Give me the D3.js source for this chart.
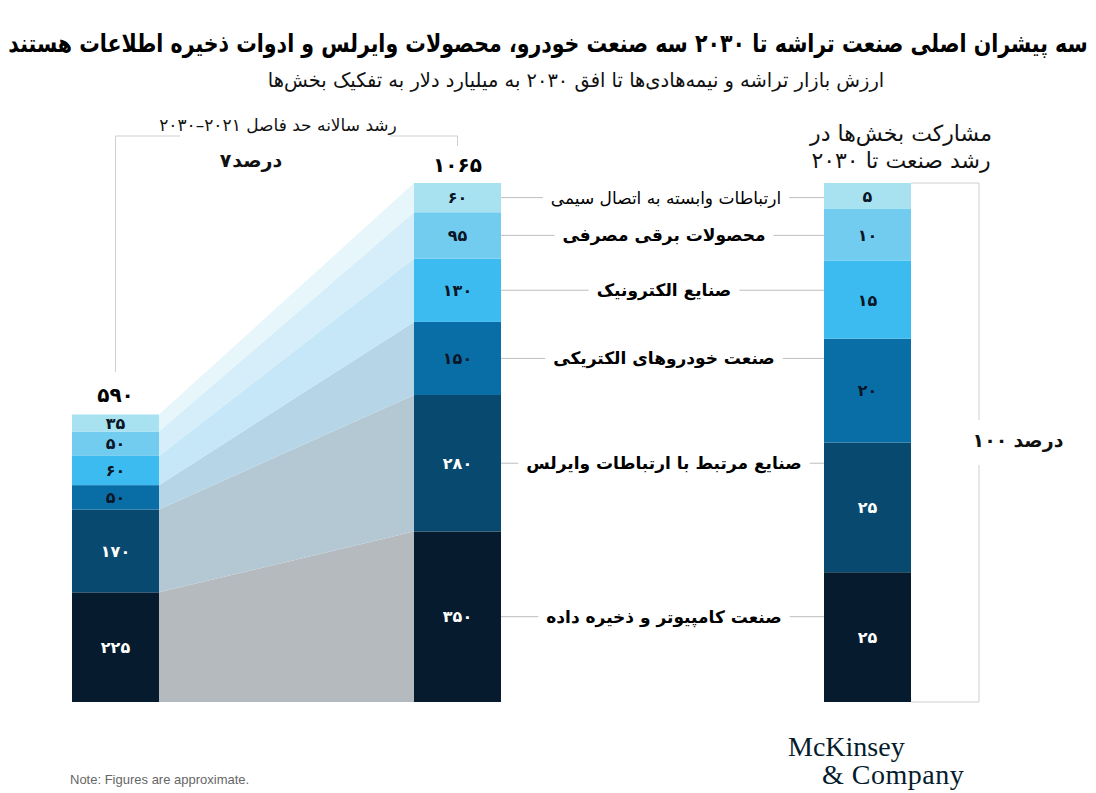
<!DOCTYPE html>
<html><head><meta charset="utf-8">
<script src="https://cdn.jsdelivr.net/npm/d3@7"></script>
<style>
html,body{margin:0;padding:0;background:#fff;}
svg{display:block;}
</style></head>
<body>
<svg id="chart" width="1096" height="793"></svg>
<script>
// ---------- data ----------
const categories = [
  "صنعت کامپیوتر و ذخیره داده",
  "صنایع مرتبط با ارتباطات وایرلس",
  "صنعت خودروهای الکتریکی",
  "صنایع الکترونیک",
  "محصولات برقی مصرفی",
  "ارتباطات وابسته به اتصال سیمی"
];
const values2021 = [225, 170, 50, 60, 50, 35];
const values2030 = [350, 280, 150, 130, 95, 60];
const shares = [25, 25, 20, 15, 10, 5];
const totals = [590, 1065];
const shareTotal = 100;
const growthRate = 7;
const percentWord = "درصد";
const growthLabel = "رشد سالانه حد فاصل ۲۰۲۱–۲۰۳۰";
const titleText = "سه پیشران اصلی صنعت تراشه تا ۲۰۳۰ سه صنعت خودرو، محصولات وایرلس و ادوات ذخیره اطلاعات هستند";
const subtitleText = "ارزش بازار تراشه و نیمه‌هادی‌ها تا افق ۲۰۳۰ به میلیارد دلار به تفکیک بخش‌ها";
const shareHeader = ["مشارکت بخش‌ها در", "رشد صنعت  تا ۲۰۳۰"];
const noteText = "Note: Figures are approximate.";

// ---------- styles ----------
const segColors = ["#061c2e", "#07496f", "#0a6ea6", "#3bbbef", "#72ccef", "#a8e2f0"];
const bandColors = ["#b5babf", "#b4c8d4", "#b6d6e8", "#c5e7f7", "#d5eef9", "#e7f6fb"];
const darkText = [false, false, true, true, true, true];
const ink = "#0a1626";
const fa = "'DejaVu Sans', sans-serif";

const toFa = n => String(n).replace(/\d/g, d => "۰۱۲۳۴۵۶۷۸۹"[d]);

const svg = d3.select("#chart");

// scales
const y = d3.scaleLinear().domain([0, 1065]).range([702, 183]);
const yShare = d3.scaleLinear().domain([0, 100]).range([702, 183]);
const x = d3.scaleOrdinal().domain(["2021", "2030", "share"]).range([72, 414, 824]);
const barW = 87;

// stacks
function stackOf(vals) {
  let acc = 0;
  return vals.map((v, i) => { const s = { i, v, y0: acc, y1: acc + v }; acc += v; return s; });
}
const s21 = stackOf(values2021);
const s30 = stackOf(values2030);
const sSh = stackOf(shares);

// ---------- transition bands ----------
const bands = svg.append("g");
s21.forEach((a, i) => {
  const b = s30[i];
  const x0 = x("2021") + barW, x1 = x("2030");
  const pts = [[x0, y(a.y0)], [x0, y(a.y1)], [x1, y(b.y1)], [x1, y(b.y0)]];
  bands.append("path")
    .attr("d", d3.line()(pts) + "Z")
    .attr("fill", bandColors[i]);
});

// ---------- bars ----------
function drawBar(stack, col, scale) {
  const g = svg.append("g");
  stack.forEach(s => {
    g.append("rect")
      .attr("x", x(col)).attr("width", barW)
      .attr("y", scale(s.y1)).attr("height", scale(s.y0) - scale(s.y1))
      .attr("fill", segColors[s.i]);
  });
  stack.forEach(s => {
    g.append("text")
      .attr("x", x(col) + barW / 2)
      .attr("y", (scale(s.y0) + scale(s.y1)) / 2)
      .attr("dy", "0.36em")
      .attr("text-anchor", "middle")
      .attr("font-family", fa).attr("font-weight", "bold").attr("font-size", 16)
      .attr("fill", darkText[s.i] ? ink : "#ffffff")
      .text(toFa(s.v));
  });
}
drawBar(s21, "2021", y);
drawBar(s30, "2030", y);
drawBar(sSh, "share", yShare);

// totals
svg.append("text").attr("x", x("2021") + barW / 2).attr("y", y(totals[0]) - 12)
  .attr("text-anchor", "middle").attr("font-family", fa).attr("font-weight", "bold")
  .attr("font-size", 20).attr("fill", "#000").text(toFa(totals[0]));
svg.append("text").attr("x", x("2030") + barW / 2).attr("y", y(totals[1]) - 11)
  .attr("text-anchor", "middle").attr("font-family", fa).attr("font-weight", "bold")
  .attr("font-size", 20).attr("fill", "#000").text(toFa(totals[1]));

// ---------- leader lines & category labels ----------
const lab = svg.append("g");
const lineG = lab.append("g");
s30.forEach(s => {
  const cy = (y(s.y0) + y(s.y1)) / 2;
  const isFirst = s.i === 5;
  const t = lab.append("text")
    .attr("x", isFirst ? 666 : 664).attr("y", cy).attr("dy", "0.35em")
    .attr("text-anchor", "middle").attr("direction", "rtl")
    .attr("font-family", fa).attr("font-weight", isFirst ? "normal" : "bold")
    .attr("font-size", 17).attr("fill", "#000")
    .text(categories[s.i]);
  const bb = t.node().getBBox();
  const x0 = x("2030") + barW, x1 = x("share");
  lineG.append("line").attr("x1", x0).attr("x2", bb.x - 8).attr("y1", cy).attr("y2", cy)
    .attr("stroke", "#bdbdbd").attr("stroke-width", 1);
  lineG.append("line").attr("x1", bb.x + bb.width + 8).attr("x2", x1).attr("y1", cy).attr("y2", cy)
    .attr("stroke", "#bdbdbd").attr("stroke-width", 1);
});

// number + word label laid out left-to-right as in the reference
function numWord(cx, cy, num, size, gap) {
  const g = svg.append("g");
  const tn = g.append("text").attr("y", cy).attr("font-family", fa).attr("font-weight", "bold")
    .attr("font-size", size).attr("fill", "#111").text(toFa(num));
  const tw = g.append("text").attr("y", cy).attr("direction", "rtl").attr("font-family", fa).attr("font-weight", "bold")
    .attr("font-size", size).attr("fill", "#111").text(percentWord);
  const wn = tn.node().getComputedTextLength(), ww = tw.node().getComputedTextLength();
  const left = cx - (wn + gap + ww) / 2;
  tn.attr("x", left).attr("text-anchor", "start");
  tw.attr("x", left + wn + gap + ww / 2).attr("text-anchor", "middle");
}

// ---------- growth bracket ----------
const bx0 = x("2021") + barW / 2, bx1 = x("2030") + barW / 2, by = 136;
const br = svg.append("g").attr("stroke", "#cfcfcf").attr("fill", "none").attr("stroke-width", 1);
br.append("path").attr("d", `M${bx0},372 V${by} H180`);
br.append("path").attr("d", `M390,${by} H${bx1} V146`);
svg.append("text").attr("x", 278).attr("y", 131).attr("text-anchor", "middle").attr("direction", "rtl")
  .attr("font-family", fa).attr("font-size", 17).attr("fill", "#111").text(growthLabel);
numWord(251, 167, growthRate, 19, 1);

// ---------- share bracket ----------
const rx0 = x("share") + barW, rx1 = 979;
const rb = svg.append("g").attr("stroke", "#cfcfcf").attr("fill", "none").attr("stroke-width", 1);
rb.append("path").attr("d", `M${rx0},${yShare(100)} H${rx1} V420`);
rb.append("path").attr("d", `M${rx1},465 V${yShare(0)} H${rx0}`);
numWord(1018, 447, shareTotal, 19, 6);

// share header
shareHeader.forEach((t, i) => {
  svg.append("text").attr("x", 901).attr("y", 141 + i * 27).attr("text-anchor", "middle").attr("direction", "rtl")
    .attr("font-family", fa).attr("font-size", 22).attr("fill", "#111").text(t);
});

// ---------- titles (scaled horizontally to the reference width) ----------
function fitText(cx, cy, txt, size, weight, width, color) {
  const t = svg.append("text").attr("x", 0).attr("y", 0).attr("text-anchor", "middle").attr("direction", "rtl")
    .attr("font-family", fa).attr("font-weight", weight).attr("font-size", size).attr("fill", color).text(txt);
  const w = t.node().getComputedTextLength();
  t.attr("transform", `translate(${cx},${cy}) scale(${width / w},1)`);
}
fitText(548, 52, titleText, 25, "bold", 1080, "#000");
fitText(576, 87, subtitleText, 20, "normal", 617, "#111");

// ---------- note & logo ----------
svg.append("text").attr("x", 70).attr("y", 784)
  .attr("font-family", "'Liberation Sans', Arial, sans-serif").attr("font-size", 13).attr("fill", "#666")
  .text(noteText);
svg.append("text").attr("x", 788).attr("y", 756)
  .attr("font-family", "'Liberation Serif', 'DejaVu Serif', serif").attr("font-size", 28).attr("fill", "#051c2c")
  .text("McKinsey");
svg.append("text").attr("x", 822).attr("y", 784)
  .attr("font-family", "'Liberation Serif', 'DejaVu Serif', serif").attr("font-size", 28).attr("fill", "#051c2c")
  .attr("letter-spacing", 0.5).text("& Company");
</script>
</body></html>
